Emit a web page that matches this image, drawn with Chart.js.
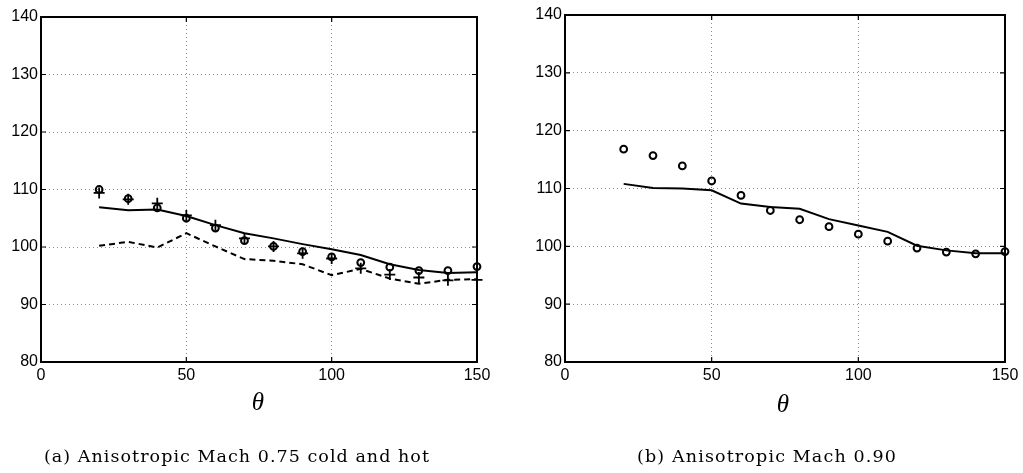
<!DOCTYPE html>
<html><head><meta charset="utf-8">
<script src="https://cdn.jsdelivr.net/npm/chart.js@4"></script>
<style>
body{margin:0;background:#fff;width:1023px;height:473px;overflow:hidden;position:relative;font-family:"Liberation Sans",Arial,sans-serif}
canvas{position:absolute;top:0}
.lbl{position:absolute;transform:translate(-50%,-50%);white-space:nowrap;color:#000}
.theta{font-family:"Liberation Serif",serif;font-style:italic;font-size:25px}
.cap{font-family:"DejaVu Serif",serif;font-size:17.5px}
</style></head><body>
<canvas id="ca" width="505" height="473" style="left:0"></canvas>
<canvas id="cb" width="518" height="473" style="left:505px"></canvas>
<div class="lbl theta" style="left:258px;top:402px">θ</div>
<div class="lbl theta" style="left:783px;top:404px">θ</div>
<div class="lbl cap" id="capA" data-w="385" style="left:237px;top:456px">(a) Anisotropic Mach 0.75 cold and hot</div>
<div class="lbl cap" id="capB" data-w="259" style="left:767px;top:456px">(b) Anisotropic Mach 0.90</div>
<script>
// ---- data ----
const theta = [20, 30, 40, 50, 60, 70, 80, 90, 100, 110, 120, 130, 140, 150];
// (a) Mach 0.75 cold and hot
const circlesA = [110.0, 108.4, 106.8, 105.0, 103.3, 101.1, 100.1, 99.2, 98.3, 97.3, 96.5, 95.9, 95.9, 96.6];
const plusA    = [109.4, 108.3, 107.6, 105.5, 103.8, 101.5, 100.1, 98.9, 98.0, 96.3, 95.2, 94.7, 94.2, 94.3];
const solidA   = [106.9, 106.4, 106.5, 105.4, 103.8, 102.4, 101.5, 100.5, 99.6, 98.6, 97.0, 96.0, 95.5, 95.6];
const dashA    = [100.2, 100.9, 99.9, 102.4, 100.1, 97.9, 97.6, 97.0, 95.1, 96.2, 94.5, 93.6, 94.3, 94.4];
// (b) Mach 0.90
const circlesB = [116.8, 115.7, 113.9, 111.3, 108.8, 106.2, 104.6, 103.4, 102.1, 100.9, 99.7, 99.0, 98.7, 99.1];
const solidB   = [110.8, 110.1, 110.0, 109.7, 107.4, 106.8, 106.5, 104.7, 103.6, 102.5, 100.1, 99.3, 98.8, 98.8];
// axes
const xTicks = [0, 50, 100, 150];
const yTicks = [80, 90, 100, 110, 120, 130, 140];

const pts = arr => arr.map((v, i) => ({x: theta[i], y: v}));

const frame = {
  id: 'frame',
  beforeDatasetsDraw(chart) {
    const {ctx, chartArea: a, scales: {x, y}} = chart;
    ctx.save();
    ctx.strokeStyle = '#000';
    ctx.lineWidth = 1.2;
    ctx.beginPath();
    for (const t of y.ticks) {
      const p = y.getPixelForValue(t.value);
      ctx.moveTo(a.left, p); ctx.lineTo(a.left + 5, p);
      ctx.moveTo(a.right, p); ctx.lineTo(a.right - 5, p);
    }
    for (const t of x.ticks) {
      const p = x.getPixelForValue(t.value);
      ctx.moveTo(p, a.bottom); ctx.lineTo(p, a.bottom - 5);
      ctx.moveTo(p, a.top); ctx.lineTo(p, a.top + 5);
    }
    ctx.stroke();
    ctx.lineWidth = 2;
    ctx.strokeRect(a.left, a.top, a.right - a.left, a.bottom - a.top);
    ctx.restore();
  }
};

function makeChart(id, datasets, L, T, R, B, W, H) {
  const tickFont = {family: '"Liberation Sans", Arial, sans-serif', size: 16};
  const gridColor = c => (c.tick && (c.tick.value === xTicks[0] || c.tick.value === xTicks[xTicks.length-1] ||
                     c.tick.value === yTicks[0] || c.tick.value === yTicks[yTicks.length-1])) ? 'rgba(0,0,0,0)' : '#8c8c8c';
  return new Chart(document.getElementById(id), {
    type: 'line',
    data: {datasets},
    plugins: [frame],
    options: {
      responsive: false,
      animation: false,
      devicePixelRatio: 1,
      clip: false,
      layout: {padding: {left: 0, top: T, right: W - R, bottom: 0}},
      plugins: {legend: {display: false}, tooltip: {enabled: false}},
      scales: {
        x: {
          type: 'linear', min: xTicks[0], max: xTicks[xTicks.length-1],
          afterBuildTicks: s => { s.ticks = xTicks.map(v => ({value: v})); },
          afterFit: s => { s.height = H - B; },
          ticks: {color: '#000', font: tickFont, padding: 4, maxRotation: 0, autoSkip: false},
          grid: {color: gridColor, lineWidth: 1, drawTicks: false},
          border: {display: false, dash: [1, 3]}
        },
        y: {
          type: 'linear', min: yTicks[0], max: yTicks[yTicks.length-1],
          afterBuildTicks: s => { s.ticks = yTicks.map(v => ({value: v})); },
          afterFit: s => { s.width = L; },
          ticks: {color: '#000', font: tickFont, padding: 3, autoSkip: false},
          grid: {color: gridColor, lineWidth: 1, drawTicks: false},
          border: {display: false, dash: [1, 3]}
        }
      }
    }
  });
}

const lineStyle = {borderColor: '#000', borderWidth: 2, pointRadius: 0, fill: false, tension: 0, clip: false};
const circStyle = {showLine: false, pointStyle: 'circle', pointRadius: 3.4, borderWidth: 2,
                   borderColor: '#000', pointBackgroundColor: 'rgba(255,255,255,0)', pointBorderColor: '#000', clip: false};
const plusStyle = {showLine: false, pointStyle: 'cross', pointRadius: 5.5, borderWidth: 1.8,
                   borderColor: '#000', pointBorderColor: '#000', clip: false};

makeChart('ca', [
  Object.assign({label: 'solid', data: pts(solidA)}, lineStyle),
  Object.assign({label: 'dashed', data: pts(dashA), borderDash: [6, 4]}, lineStyle),
  Object.assign({label: 'plus', data: pts(plusA)}, plusStyle),
  Object.assign({label: 'circles', data: pts(circlesA)}, circStyle)
], 41, 17, 477, 362, 505, 473);

makeChart('cb', [
  Object.assign({label: 'solid', data: pts(solidB)}, lineStyle),
  Object.assign({label: 'circles', data: pts(circlesB)}, circStyle)
], 60, 15, 500, 362, 518, 473);

// fit caption widths
document.querySelectorAll('.cap').forEach(el => {
  const target = +el.dataset.w;
  const n = el.textContent.length;
  const w = el.getBoundingClientRect().width;
  el.style.letterSpacing = ((target - w) / (n - 1)) + 'px';
});
</script>
</body></html>
